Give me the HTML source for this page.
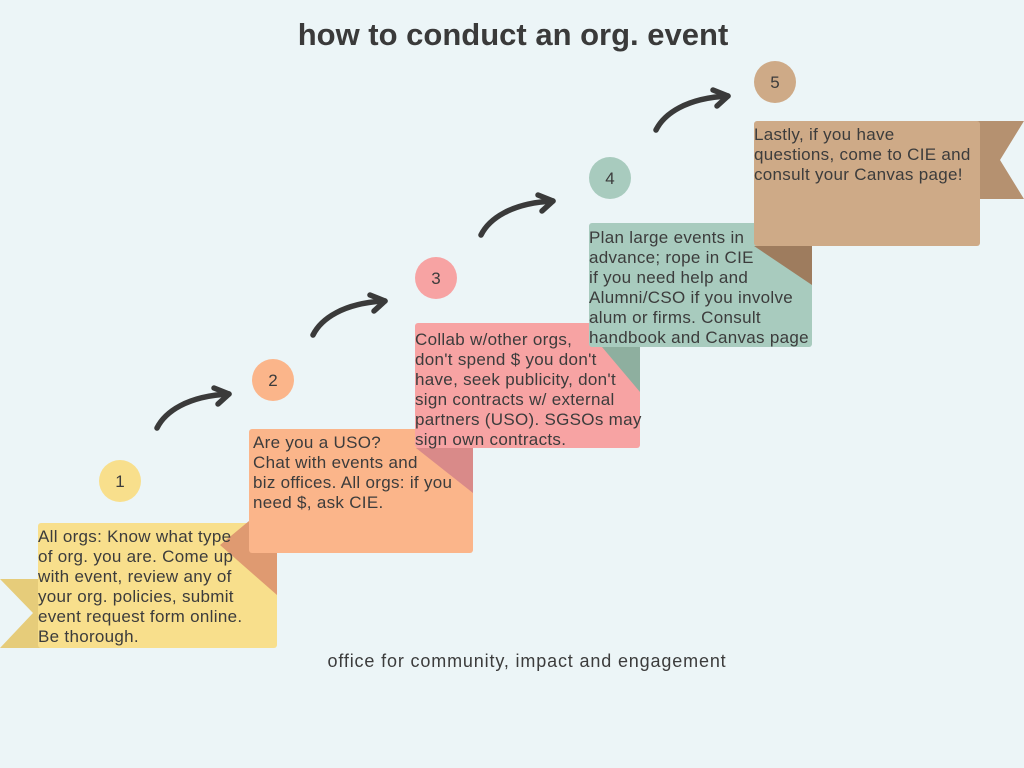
<!DOCTYPE html>
<html>
<head>
<meta charset="utf-8">
<style>
  html,body{margin:0;padding:0;}
  body{width:1024px;height:768px;background:#ECF5F7;overflow:hidden;}
  svg{display:block;}
  text{font-family:"Liberation Sans",Arial,sans-serif;fill:#3c3c3c;}
  .t{font-size:17px;letter-spacing:0.3px;}
  .n{font-size:17px;text-anchor:middle;}
</style>
</head>
<body>
<svg width="1024" height="768" viewBox="0 0 1024 768" xmlns="http://www.w3.org/2000/svg">
  <rect x="0" y="0" width="1024" height="768" fill="#ECF5F7"/>

  <!-- Title -->
  <text x="513" y="45" text-anchor="middle" style="font-size:31px;font-weight:bold;fill:#3a3a3a;">how to conduct an org. event</text>

  <!-- Box 1 tail -->
  <polygon points="0,579 50,579 50,648 0,648 33,613" fill="#E6CC7A"/>
  <!-- Box 1 -->
  <rect x="38" y="523" width="239" height="125" rx="3" fill="#F8DF8C"/>
  <!-- Box 1 fold -->
  <polygon points="220,545 249,521 277,521 277,595" fill="#DF9A71"/>

  <!-- Box 2 -->
  <rect x="249" y="429" width="224" height="124" rx="3" fill="#FBB58A"/>
  <!-- Box 2 fold -->
  <polygon points="416,448 473,448 473,493" fill="#D98A89"/>

  <!-- Box 3 -->
  <rect x="415" y="323" width="225" height="125" rx="3" fill="#F7A3A3"/>
  <!-- Box 3 fold -->
  <polygon points="602,347 640,347 640,392" fill="#8EAF9F"/>

  <!-- Box 4 -->
  <rect x="589" y="223" width="223" height="124" rx="3" fill="#A8CBBE"/>
  <!-- Box 4 fold -->
  <polygon points="754,246 812,246 812,285" fill="#9E7C5E"/>

  <!-- Box 5 tail -->
  <polygon points="970,121 1024,121 1000,160 1024,199 970,199" fill="#B59170"/>
  <!-- Box 5 -->
  <rect x="754" y="121" width="226" height="125" rx="3" fill="#CEAA87"/>

  <!-- Circles -->
  <circle cx="120" cy="481" r="21" fill="#F8DF8C"/>
  <circle cx="273" cy="380" r="21" fill="#FBB58A"/>
  <circle cx="436" cy="278" r="21" fill="#F7A3A3"/>
  <circle cx="610" cy="178" r="21" fill="#A8CBBE"/>
  <circle cx="775" cy="82" r="21" fill="#CEAA87"/>
  <text class="n" x="120" y="487">1</text>
  <text class="n" x="273" y="386">2</text>
  <text class="n" x="436" y="284">3</text>
  <text class="n" x="610" y="184">4</text>
  <text class="n" x="775" y="88">5</text>

  <!-- Arrows -->
  <g fill="none" stroke="#3a3a3a" stroke-width="5.5" stroke-linecap="round" stroke-linejoin="round">
    <g transform="translate(157,428)">
      <path d="M0,0 C8,-16 30,-32 72,-34"/>
      <path d="M57,-40 L72,-34 L61,-24"/>
    </g>
    <g transform="translate(313,335)">
      <path d="M0,0 C8,-16 30,-32 72,-34"/>
      <path d="M57,-40 L72,-34 L61,-24"/>
    </g>
    <g transform="translate(481,235)">
      <path d="M0,0 C8,-16 30,-32 72,-34"/>
      <path d="M57,-40 L72,-34 L61,-24"/>
    </g>
    <g transform="translate(656,130)">
      <path d="M0,0 C8,-16 30,-32 72,-34"/>
      <path d="M57,-40 L72,-34 L61,-24"/>
    </g>
  </g>

  <!-- Box 1 text -->
  <text class="t" x="38" y="542">All orgs: Know what type</text>
  <text class="t" x="38" y="562">of org. you are. Come up</text>
  <text class="t" x="38" y="582">with event, review any of</text>
  <text class="t" x="38" y="602">your org. policies, submit</text>
  <text class="t" x="38" y="622">event request form online.</text>
  <text class="t" x="38" y="642">Be thorough.</text>

  <!-- Box 2 text -->
  <text class="t" x="253" y="448">Are you a USO?</text>
  <text class="t" x="253" y="468">Chat with events and</text>
  <text class="t" x="253" y="488">biz offices. All orgs: if you</text>
  <text class="t" x="253" y="508">need $, ask CIE.</text>

  <!-- Box 3 text -->
  <text class="t" x="415" y="345">Collab w/other orgs,</text>
  <text class="t" x="415" y="365">don't spend $ you don't</text>
  <text class="t" x="415" y="385">have, seek publicity, don't</text>
  <text class="t" x="415" y="405">sign contracts w/ external</text>
  <text class="t" x="415" y="425">partners (USO). SGSOs may</text>
  <text class="t" x="415" y="445">sign own contracts.</text>

  <!-- Box 4 text -->
  <text class="t" x="589" y="243">Plan large events in</text>
  <text class="t" x="589" y="263">advance; rope in CIE</text>
  <text class="t" x="589" y="283">if you need help and</text>
  <text class="t" x="589" y="303">Alumni/CSO if you involve</text>
  <text class="t" x="589" y="323">alum or firms. Consult</text>
  <text class="t" x="589" y="343">handbook and Canvas page</text>

  <!-- Box 5 text -->
  <text class="t" x="754" y="140">Lastly, if you have</text>
  <text class="t" x="754" y="160">questions, come to CIE and</text>
  <text class="t" x="754" y="180">consult your Canvas page!</text>

  <!-- Footer -->
  <text x="527" y="667" text-anchor="middle" style="font-size:18px;letter-spacing:0.85px;">office for community, impact and engagement</text>
</svg>
</body>
</html>
